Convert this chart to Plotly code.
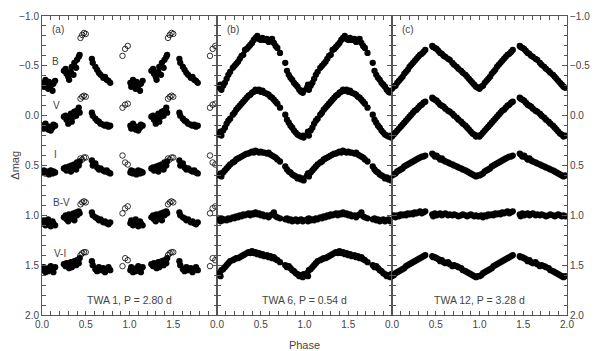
import plotly.graph_objects as go

# ---- TWA 1 (panel a), P = 2.80 d ----
ph_a = [0.01, 0.02, 0.04, 0.05, 0.07, 0.08, 0.10, 0.12, 0.13, 0.15,
        0.25, 0.27, 0.28, 0.30, 0.31, 0.33, 0.34, 0.36, 0.37, 0.39, 0.40, 0.42, 0.43,
        0.57, 0.58, 0.61, 0.63, 0.65, 0.67, 0.70, 0.72, 0.74, 0.76, 0.78]
B_a = [-0.33, -0.29, -0.36, -0.31, -0.27, -0.34, -0.30, -0.25, -0.32, -0.35,
       -0.45, -0.47, -0.42, -0.39, -0.36, -0.44, -0.49, -0.41, -0.53, -0.48, -0.56, -0.59, -0.61,
       -0.57, -0.53, -0.49, -0.46, -0.43, -0.41, -0.38, -0.39, -0.36, -0.35, -0.33]
V_a = [0.10, 0.13, 0.08, 0.12, 0.14, 0.11, 0.15, 0.12, 0.09, 0.10,
       0.01, 0.00, 0.04, 0.08, 0.03, -0.02, 0.06, 0.01, -0.04, 0.00, -0.05, -0.08, -0.03,
       -0.03, 0.00, 0.03, 0.05, 0.06, 0.08, 0.09, 0.10, 0.09, 0.11, 0.10]
I_a = [0.57, 0.55, 0.58, 0.56, 0.57, 0.59, 0.55, 0.58, 0.56, 0.57,
       0.53, 0.52, 0.55, 0.54, 0.51, 0.56, 0.50, 0.53, 0.49, 0.54, 0.47, 0.50, 0.46,
       0.45, 0.50, 0.48, 0.52, 0.54, 0.53, 0.55, 0.56, 0.55, 0.57, 0.58]
BV_a = [1.08, 1.05, 1.10, 1.07, 1.04, 1.09, 1.11, 1.06, 1.08, 1.10,
        1.02, 1.00, 1.04, 1.06, 0.99, 1.03, 1.01, 0.98, 1.05, 0.97, 1.00, 0.96, 0.98,
        0.97, 1.00, 1.02, 1.03, 1.05, 1.04, 1.07, 1.06, 1.08, 1.09, 1.07]
VI_a = [1.55, 1.52, 1.57, 1.54, 1.56, 1.53, 1.51, 1.55, 1.57, 1.52,
        1.49, 1.51, 1.48, 1.50, 1.53, 1.47, 1.52, 1.49, 1.46, 1.50, 1.45, 1.48, 1.43,
        1.46, 1.50, 1.54, 1.56, 1.52, 1.55, 1.53, 1.57, 1.54, 1.52, 1.55]
# open circles (other season)
ph_ao = [0.44, 0.46, 0.48, 0.50, 0.92, 0.95, 0.98]
B_ao = [-0.78, -0.81, -0.83, -0.82, -0.60, -0.67, -0.70]
V_ao = [-0.17, -0.19, -0.20, -0.19, -0.08, -0.11, -0.12]
I_ao = [0.43, 0.44, 0.42, 0.42, 0.40, 0.47, 0.49]
BV_ao = [0.89, 0.87, 0.86, 0.87, 0.98, 0.93, 0.91]
VI_ao = [1.40, 1.38, 1.37, 1.37, 1.51, 1.43, 1.45]

# ---- TWA 6 (panel b), P = 0.54 d ----
ph_b = [0.03, 0.04, 0.05, 0.07, 0.09, 0.11, 0.13, 0.15, 0.18, 0.20, 0.22, 0.24, 0.26, 0.28,
        0.30, 0.32, 0.34, 0.36, 0.38, 0.40, 0.42, 0.44, 0.46, 0.48, 0.50, 0.52, 0.54, 0.57,
        0.59, 0.61, 0.63, 0.65, 0.67, 0.69, 0.72, 0.78, 0.80, 0.82, 0.84, 0.86, 0.88, 0.90,
        0.92, 0.94, 0.96, 0.98, 0.99]
B_b = [-0.28, -0.31, -0.26, -0.30, -0.33, -0.37, -0.41, -0.44, -0.48, -0.50, -0.52, -0.54, -0.57, -0.60,
       -0.61, -0.66, -0.67, -0.69, -0.71, -0.73, -0.76, -0.78, -0.80, -0.77, -0.76, -0.78, -0.76, -0.77,
       -0.74, -0.76, -0.77, -0.73, -0.70, -0.68, -0.63, -0.53, -0.45, -0.41, -0.38, -0.36, -0.33, -0.31,
       -0.29, -0.26, -0.24, -0.23, -0.25]
V_b = [0.19, 0.16, 0.20, 0.15, 0.12, 0.08, 0.05, 0.03, -0.01, -0.03, -0.06, -0.08, -0.10, -0.12,
       -0.14, -0.16, -0.18, -0.20, -0.21, -0.23, -0.24, -0.26, -0.25, -0.26, -0.24, -0.25, -0.23, -0.22,
       -0.21, -0.19, -0.18, -0.16, -0.14, -0.12, -0.08, -0.01, 0.04, 0.07, 0.10, 0.12, 0.15, 0.17,
       0.19, 0.20, 0.21, 0.20, 0.22]
I_b = [0.60, 0.58, 0.61, 0.57, 0.55, 0.53, 0.51, 0.49, 0.47, 0.46, 0.44, 0.43, 0.42, 0.41,
       0.40, 0.39, 0.38, 0.38, 0.37, 0.36, 0.37, 0.35, 0.36, 0.37, 0.36, 0.37, 0.37, 0.38,
       0.37, 0.39, 0.40, 0.41, 0.42, 0.44, 0.46, 0.51, 0.54, 0.56, 0.57, 0.59, 0.60, 0.61,
       0.63, 0.62, 0.64, 0.63, 0.65]
BV_b = [1.04, 1.06, 1.03, 1.05, 1.04, 1.05, 1.03, 1.04, 1.02, 1.03, 1.01, 1.02, 1.00, 1.01,
        0.99, 1.00, 0.99, 0.98, 1.00, 0.98, 0.99, 0.97, 0.99, 0.98, 1.00, 0.99, 1.01, 1.00,
        1.02, 1.00, 0.99, 0.97, 1.01, 1.02, 1.03, 1.04, 1.03, 1.05, 1.04, 1.06, 1.05, 1.04,
        1.06, 1.05, 1.04, 1.06, 1.05]
VI_b = [1.58, 1.61, 1.55, 1.54, 1.52, 1.50, 1.48, 1.46, 1.45, 1.44, 1.43, 1.43, 1.42, 1.41,
        1.40, 1.39, 1.38, 1.37, 1.38, 1.36, 1.38, 1.37, 1.39, 1.38, 1.40, 1.39, 1.41, 1.40,
        1.42, 1.41, 1.43, 1.42, 1.44, 1.45, 1.47, 1.50, 1.52, 1.51, 1.53, 1.55, 1.56, 1.58,
        1.59, 1.61, 1.60, 1.62, 1.59]

# ---- TWA 12 (panel c), P = 3.28 d ----
ph_c = [0.00, 0.02, 0.04, 0.06, 0.08, 0.10, 0.12, 0.14, 0.16, 0.18, 0.20, 0.22, 0.24, 0.26,
        0.28, 0.30, 0.32, 0.34, 0.36, 0.38,
        0.46, 0.47, 0.49, 0.51, 0.53, 0.55, 0.57, 0.59, 0.61, 0.64, 0.66, 0.69, 0.71, 0.74,
        0.76, 0.79, 0.81, 0.84, 0.86, 0.88, 0.90, 0.92, 0.94, 0.96, 0.98]
B_c = [-0.27, -0.29, -0.30, -0.33, -0.35, -0.37, -0.39, -0.42, -0.44, -0.46, -0.49, -0.51, -0.53, -0.55,
       -0.57, -0.59, -0.61, -0.62, -0.64, -0.66,
       -0.70, -0.69, -0.68, -0.67, -0.65, -0.63, -0.62, -0.60, -0.59, -0.57, -0.56, -0.53, -0.51, -0.49,
       -0.47, -0.45, -0.43, -0.41, -0.39, -0.37, -0.35, -0.33, -0.31, -0.29, -0.28]
V_c = [0.21, 0.19, 0.17, 0.15, 0.13, 0.11, 0.09, 0.07, 0.05, 0.03, 0.01, -0.01, -0.03, -0.05,
       -0.06, -0.08, -0.10, -0.11, -0.13, -0.14,
       -0.18, -0.17, -0.16, -0.15, -0.13, -0.11, -0.10, -0.09, -0.07, -0.05, -0.04, -0.02, 0.00, 0.02,
       0.04, 0.06, 0.08, 0.10, 0.12, 0.14, 0.16, 0.18, 0.19, 0.21, 0.20]
I_c = [0.60, 0.59, 0.58, 0.56, 0.55, 0.54, 0.53, 0.51, 0.50, 0.49, 0.48, 0.47, 0.46, 0.45,
       0.44, 0.43, 0.42, 0.41, 0.41, 0.40,
       0.38, 0.39, 0.41, 0.40, 0.42, 0.44, 0.43, 0.45, 0.46, 0.47, 0.48, 0.49, 0.50, 0.51,
       0.52, 0.53, 0.54, 0.55, 0.56, 0.57, 0.58, 0.59, 0.60, 0.61, 0.60]
BV_c = [1.01, 1.00, 1.02, 1.00, 1.01, 0.99, 1.00, 0.99, 1.00, 0.98, 0.99, 0.98, 0.99, 0.97,
        0.98, 0.97, 0.96, 0.98, 0.97, 0.96,
        0.99, 1.01, 0.98, 1.00, 0.99, 0.98, 1.00, 0.99, 0.98, 1.00, 0.99, 1.00, 0.99, 1.00,
        1.01, 1.00, 0.99, 1.00, 1.01, 1.00, 0.99, 1.00, 1.01, 1.00, 1.01]
VI_c = [1.61, 1.60, 1.58, 1.57, 1.56, 1.55, 1.54, 1.53, 1.51, 1.50, 1.49, 1.48, 1.47, 1.46,
        1.45, 1.44, 1.43, 1.42, 1.41, 1.40,
        1.41, 1.42, 1.42, 1.43, 1.44, 1.46, 1.45, 1.47, 1.48, 1.47, 1.49, 1.51, 1.50, 1.51,
        1.52, 1.53, 1.55, 1.56, 1.57, 1.58, 1.59, 1.60, 1.61, 1.62, 1.61]

band_names = ["B", "V", "I", "B-V", "V-I"]
panel_tags = ["(a)", "(b)", "(c)"]
star_labels = ["TWA 1, P = 2.80 d", "TWA 6, P = 0.54 d", "TWA 12, P = 3.28 d"]

panels = [
    (ph_a, [B_a, V_a, I_a, BV_a, VI_a]),
    (ph_b, [B_b, V_b, I_b, BV_b, VI_b]),
    (ph_c, [B_c, V_c, I_c, BV_c, VI_c]),
]

fig = go.Figure()

# each light curve is shown over two cycles
for k, (ph, rows) in enumerate(panels):
    xa = "x" if k == 0 else "x%d" % (k + 1)
    ya = "y" if k == 0 else "y%d" % (k + 1)
    for mags in rows:
        fig.add_trace(go.Scatter(x=ph + [p + 1 for p in ph], y=mags + mags,
                                 mode="markers", xaxis=xa, yaxis=ya, showlegend=False,
                                 marker=dict(color="black", size=6.3, line=dict(width=0))))

for mags in [B_ao, V_ao, I_ao, BV_ao, VI_ao]:
    fig.add_trace(go.Scatter(x=ph_ao + [p + 1 for p in ph_ao], y=mags + mags,
                             mode="markers", showlegend=False,
                             marker=dict(symbol="circle-open", color="black", size=5.5,
                                         line=dict(width=0.8))))

axcol = "#555555"
tfont = dict(family="Liberation Sans, Arial, sans-serif", size=10, color="#444444")

xcommon = dict(range=[0, 2], showline=True, linecolor=axcol, linewidth=1, mirror="ticks",
               ticks="inside", ticklen=4, tickcolor=axcol, showgrid=False, zeroline=False,
               tickfont=tfont, tickformat=".1f", automargin=False,
               minor=dict(tickmode="linear", tick0=0, dtick=0.1, ticks="inside",
                          ticklen=4, tickcolor=axcol))
ycommon = dict(range=[2.0, -1.0], showline=True, linecolor=axcol, linewidth=1, mirror="ticks",
               ticks="inside", ticklen=5, tickcolor=axcol, showgrid=False, zeroline=False,
               tickfont=tfont, tickmode="linear", tick0=0, dtick=0.5, tickformat=".1f",
               automargin=False,
               minor=dict(tickmode="linear", tick0=0, dtick=0.1, ticks="inside",
                          ticklen=3.5, tickcolor=axcol))

# page body adds an 8 px offset, so the figure is sized to fit the window
fig.update_layout(
    width=603, height=343,
    margin=dict(l=34, r=44, t=8, b=36),
    plot_bgcolor="white", paper_bgcolor="white",
    font=tfont,
    xaxis=dict(xcommon, domain=[0, 1/3], anchor="y", tickmode="array",
               tickvals=[0, 0.5, 1.0, 1.5]),
    xaxis2=dict(xcommon, domain=[1/3, 2/3], anchor="y2", tickmode="array",
                tickvals=[0, 0.5, 1.0, 1.5],
                title=dict(text="Phase", font=dict(size=11, color="#444444"))),
    xaxis3=dict(xcommon, domain=[2/3, 1], anchor="y3", tickmode="array",
                tickvals=[0, 0.5, 1.0, 1.5, 2.0]),
    yaxis=dict(ycommon, anchor="x"),
    yaxis2=dict(ycommon, anchor="x2", matches="y", showticklabels=False),
    yaxis3=dict(ycommon, anchor="x3", matches="y", side="right"),
)

fig.add_annotation(x=-0.053, y=0.5, xref="paper", yref="paper", text="Δmag",
                   xanchor="center", yanchor="middle",
                   textangle=-90, showarrow=False, font=dict(size=11, color="#444444"))

# band labels in panel (a)
band_pos = [(0.15, -0.54), (0.17, -0.10), (0.15, 0.39), (0.22, 0.87), (0.20, 1.38)]
for name, (bx, by) in zip(band_names, band_pos):
    fig.add_annotation(x=bx, y=by, xref="x", yref="y", text=name, showarrow=False,
                       font=dict(size=10, color="#444444"))

for k in range(3):
    xr = "x" if k == 0 else "x%d" % (k + 1)
    yr = "y" if k == 0 else "y%d" % (k + 1)
    fig.add_annotation(x=0.18, y=-0.86, xref=xr, yref=yr, text=panel_tags[k],
                       showarrow=False, font=dict(size=10, color="#444444"))
    fig.add_annotation(x=1.0, y=1.85, xref=xr, yref=yr, text=star_labels[k],
                       showarrow=False, font=dict(size=10.5, color="#444444"))

fig.write_html("out.html")
